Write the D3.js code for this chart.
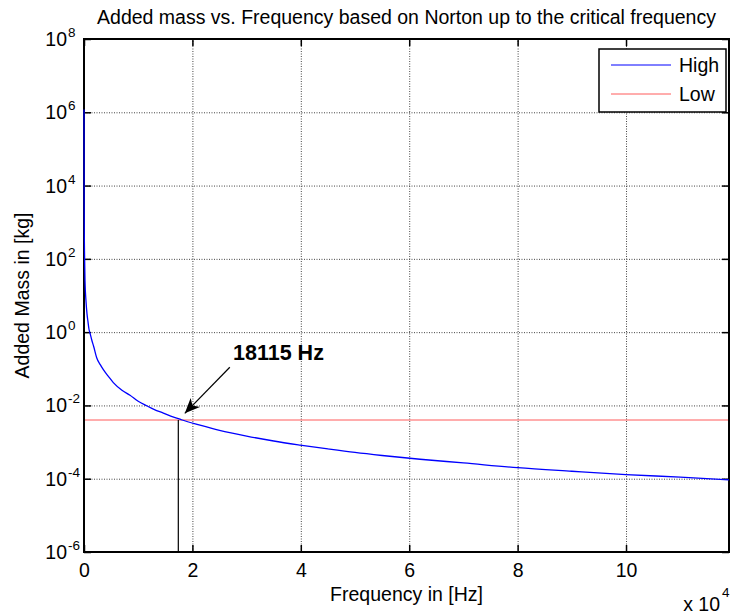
<!DOCTYPE html>
<html>
<head>
<meta charset="utf-8">
<script src="https://cdn.jsdelivr.net/npm/d3@7"></script>
<style>
body { margin: 0; background: #fff; }
svg text { font-family: Arial, "Liberation Sans", Helvetica, sans-serif; fill: #000; }
</style>
</head>
<body>
<div id="chart"></div>
<script>
// values (Hz, kg)
var freqHz = [1, 20, 60, 100, 185, 370, 550, 740, 920, 1100, 1420, 1800, 2340, 3000, 3570,
  4500, 5410, 7000, 8490, 10000, 11570, 13000, 14640, 16000, 17720, 18115, 21400, 25000,
  30000, 35000, 39870, 45000, 50000, 55000, 62000, 70000, 80000, 90000, 100000, 110000, 119000];
var massHigh = [1.2e6, 3.3e3, 360, 130, 25, 7, 3.2, 1.9, 1.2, 0.95, 0.62, 0.4, 0.2, 0.13, 0.095,
  0.062, 0.042, 0.026, 0.019, 0.013, 0.0098, 0.0077, 0.0062, 0.0051, 0.0042, 0.0040, 0.0029, 0.0021,
  0.00146, 0.00107, 0.00083, 0.00065, 0.00052, 0.00043, 0.00034, 0.00027, 0.00020, 0.00016, 0.00013, 0.00011, 0.000093];
var massLow = 0.004;
var critFreq = 17400;        // where the black marker line sits
var critLabel = "18115 Hz";
var seriesNames = ["High", "Low"];
var seriesColors = ["#0000ff", "#ff5a5a"];

var xTicks = [0, 20000, 40000, 60000, 80000, 100000];
var xTickLabels = ["0", "2", "4", "6", "8", "10"];
var yTicks = [1e-6, 1e-4, 1e-2, 1, 1e2, 1e4, 1e6, 1e8];
var yTickExp = ["-6", "-4", "-2", "0", "2", "4", "6", "8"];

// annotation anchors in data units [Hz, kg]
var arrowTail = [26900, 0.11];
var arrowTip = [18600, 0.0061];
var labelAt = [27500, 0.17];

var fs = 19.5;
var margin = {top: 39, right: 5, bottom: 62, left: 84},
    width = 734 - margin.left - margin.right,
    height = 614 - margin.top - margin.bottom;

var svg = d3.select("#chart")
  .append("svg")
    .attr("width", 734)
    .attr("height", 614)
  .append("g")
    .attr("transform", "translate(" + margin.left + "," + margin.top + ")");

var x = d3.scaleLinear().domain([0, 119000]).range([0, width]);
var y = d3.scaleLog().domain([1e-6, 1e8]).range([height, 0]);

svg.append("defs");

// grid (dotted)
svg.append("g")
    .attr("class", "grid")
    .attr("transform", "translate(0," + height + ")")
    .call(d3.axisBottom(x).tickValues(xTicks.slice(1)).tickSize(-height).tickFormat(""))
svg.append("g")
    .attr("class", "grid")
    .call(d3.axisLeft(y).tickValues(yTicks.slice(1, -1)).tickSize(-width).tickFormat(""))
svg.selectAll(".grid .domain").remove();
svg.selectAll(".grid line")
    .attr("stroke", "#444")
    .attr("stroke-width", 1)
    .attr("stroke-dasharray", "1,1.5");

// inward ticks on all four sides
var tk = 7;
svg.append("g").attr("class", "ax").attr("transform", "translate(0," + height + ")")
    .call(d3.axisBottom(x).tickValues(xTicks).tickSize(-tk).tickPadding(11).tickFormat(function(d, i){ return xTickLabels[i]; }));
svg.append("g").attr("class", "ax")
    .call(d3.axisTop(x).tickValues(xTicks).tickSize(-tk).tickFormat(""));
svg.append("g").attr("class", "ax")
    .call(d3.axisLeft(y).tickValues(yTicks).tickSize(-tk).tickFormat(""));
svg.append("g").attr("class", "ax").attr("transform", "translate(" + width + ",0)")
    .call(d3.axisRight(y).tickValues(yTicks).tickSize(-tk).tickFormat(""));
svg.selectAll(".ax .domain").remove();
svg.selectAll(".ax line").attr("stroke", "#000").attr("stroke-width", 1.5);
svg.selectAll(".ax text").attr("font-size", fs).attr("font-family", null);

// y tick labels 10^n
var yl = svg.append("g");
yTicks.forEach(function(v, i){
  yl.append("text")
    .attr("x", -17).attr("y", y(v) + 7)
    .attr("text-anchor", "end")
    .attr("font-size", fs)
    .text("10");
  yl.append("text")
    .attr("x", -16).attr("y", y(v) - 2)
    .attr("font-size", 13.5)
    .text(yTickExp[i]);
});

// Low line
svg.append("line")
    .attr("x1", 0).attr("x2", width)
    .attr("y1", y(massLow)).attr("y2", y(massLow))
    .attr("stroke", seriesColors[1])
    .attr("stroke-width", 1);

// marker line down from crossing
svg.append("line")
    .attr("x1", x(critFreq)).attr("x2", x(critFreq))
    .attr("y1", y(massLow)).attr("y2", height)
    .attr("stroke", "#000").attr("stroke-width", 1.2);

// box
svg.append("rect")
    .attr("width", width).attr("height", height)
    .attr("fill", "none").attr("stroke", "#000").attr("stroke-width", 2);

// High curve, drawn over the box like the original
var line = d3.line()
    .x(function(d){ return x(d[0]); })
    .y(function(d){ return y(d[1]); })
    .curve(d3.curveMonotoneX);
svg.append("path")
    .datum(freqHz.map(function(f, i){ return [f, massHigh[i]]; }))
    .attr("d", line)
    .attr("fill", "none")
    .attr("stroke", seriesColors[0])
    .attr("stroke-width", 1.3);

// arrow annotation
svg.select("defs").append("marker")
    .attr("id", "head")
    .attr("markerUnits", "userSpaceOnUse")
    .attr("viewBox", "-16 -8 17 16")
    .attr("refX", 0).attr("refY", 0)
    .attr("markerWidth", 17).attr("markerHeight", 16)
    .attr("orient", "auto")
  .append("path")
    .attr("d", "M0,0L-15,-6.5L-11,0L-15,6.5Z")
    .attr("fill", "#000");
svg.append("line")
    .attr("x1", x(arrowTail[0])).attr("y1", y(arrowTail[1]))
    .attr("x2", x(arrowTip[0])).attr("y2", y(arrowTip[1]))
    .attr("stroke", "#000").attr("stroke-width", 1.2)
    .attr("marker-end", "url(#head)");
svg.append("text")
    .attr("x", x(labelAt[0])).attr("y", y(labelAt[1]))
    .attr("font-size", 21.5)
    .attr("font-weight", "bold")
    .text(critLabel);

// legend
var lg = svg.append("g").attr("transform", "translate(515,10)");
lg.append("rect")
    .attr("width", 127).attr("height", 63)
    .attr("fill", "#fff").attr("stroke", "#000").attr("stroke-width", 1.5);
seriesNames.forEach(function(n, i){
  lg.append("line")
    .attr("x1", 12).attr("x2", 72)
    .attr("y1", 16 + i * 29).attr("y2", 16 + i * 29)
    .attr("stroke", seriesColors[i]).attr("stroke-width", 1);
  lg.append("text")
    .attr("x", 80).attr("y", 23 + i * 29)
    .attr("font-size", fs)
    .text(n);
});

// titles
svg.append("text")
    .attr("x", width / 2).attr("y", -15)
    .attr("text-anchor", "middle")
    .attr("font-size", fs)
    .text("Added mass vs. Frequency based on Norton up to the critical frequency");
svg.append("text")
    .attr("x", width / 2).attr("y", height + 49)
    .attr("text-anchor", "middle")
    .attr("font-size", fs)
    .text("Frequency in [Hz]");
svg.append("text")
    .attr("transform", "translate(-55," + (height / 2) + ") rotate(-90)")
    .attr("text-anchor", "middle")
    .attr("font-size", fs)
    .text("Added Mass in [kg]");
svg.append("text")
    .attr("x", 636).attr("y", height + 59)
    .attr("text-anchor", "end")
    .attr("font-size", fs)
    .text("x 10");
svg.append("text")
    .attr("x", 638).attr("y", height + 45)
    .attr("font-size", 13.5)
    .text("4");
</script>
</body>
</html>
